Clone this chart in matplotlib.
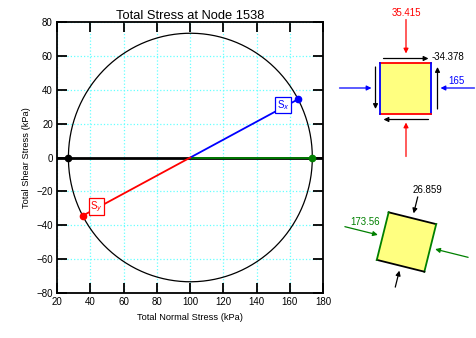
import numpy as np
import matplotlib
matplotlib.use("Agg")
import matplotlib.pyplot as plt
from matplotlib.patches import Polygon

# -------------------------------
# DATA
# -------------------------------
sigma_x = 165.0
sigma_y = 35.415
tau_xy = -34.378
sigma_1 = 173.56
sigma_3 = 26.859

x_ticks = [20, 40, 60, 80, 100, 120, 140, 160, 180]
y_ticks = [-80, -60, -40, -20, 0, 20, 40, 60, 80]

center = (sigma_1 + sigma_3) / 2
radius = (sigma_1 - sigma_3) / 2
theta = 0.5 * np.degrees(np.arctan2(-tau_xy, sigma_x - center))

plt.rcParams['font.family'] = ['Liberation Sans', 'DejaVu Sans']

fig = plt.figure(figsize=(4.77, 3.38), dpi=100)
ax = fig.add_axes([0.1195, 0.133, 0.5577, 0.802])

# -------------------------------
# MOHR CIRCLE
# -------------------------------
t = np.linspace(0, 2 * np.pi, 400)
ax.plot(center + radius * np.cos(t), radius * np.sin(t), color='black', lw=0.9, zorder=3)
ax.axhline(0, color='black', lw=2, zorder=3)
ax.plot([center, sigma_1], [0, 0], color='green', lw=1.3, zorder=4)
ax.plot([center, sigma_x], [0, -tau_xy], color='blue', lw=1.3, zorder=4)
ax.plot([center, sigma_y], [0, tau_xy], color='red', lw=1.3, zorder=4)
ax.plot(sigma_3, 0, 'o', color='black', ms=4.5, zorder=5)
ax.plot(sigma_1, 0, 'o', color='green', ms=4.5, zorder=5)
ax.plot(sigma_x, -tau_xy, 'o', color='blue', ms=4.5, zorder=5)
ax.plot(sigma_y, tau_xy, 'o', color='red', ms=4.5, zorder=5)

# labels on the lines
lx = center + 0.86 * (sigma_x - center)
ax.text(lx, -0.9 * tau_xy, 'S$_x$', color='blue', fontsize=7, ha='center', va='center', zorder=6,
        bbox=dict(boxstyle='square,pad=0.15', fc='white', ec='blue', lw=0.9))
ly = center + 0.87 * (sigma_y - center)
ax.text(ly, 0.84 * tau_xy, 'S$_y$', color='red', fontsize=7, ha='center', va='center', zorder=6,
        bbox=dict(boxstyle='square,pad=0.15', fc='white', ec='red', lw=0.9))

ax.set_xlim(20, 180)
ax.set_ylim(-80, 80)
ax.set_xticks(x_ticks)
ax.set_yticks(y_ticks)
ax.tick_params(direction='in', length=7, width=1.3, top=True, right=True, labelsize=7, pad=3)
ax.grid(True, color='#66ffff', linestyle=':', lw=0.9)
for s in ax.spines.values():
    s.set_linewidth(1.3)
ax.set_title("Total Stress at Node 1538", fontsize=9.3, pad=2)
ax.set_xlabel("Total Normal Stress (kPa)", fontsize=6.7)
ax.set_ylabel("Total Shear Stress (kPa)", fontsize=6.7)

# -------------------------------
# STRESS ELEMENTS (pixel layout)
# -------------------------------
ov = fig.add_axes([0, 0, 1, 1])
ov.set_xlim(0, 477)
ov.set_ylim(338, 0)
ov.axis('off')
ov.patch.set_alpha(0)

fill = '#ffff80'


def arrow(p0, p1, color):
    ov.annotate('', xy=p1, xytext=p0,
                arrowprops=dict(arrowstyle='-|>', color=color, lw=0.9,
                                mutation_scale=7, shrinkA=0, shrinkB=0))


def element(cx, cy, half, ang, c_tb, c_lr):
    a = np.radians(ang)
    rot = np.array([[np.cos(a), -np.sin(a)], [np.sin(a), np.cos(a)]])
    pts = np.array([[-half, -half], [half, -half], [half, half], [-half, half]]) @ rot.T
    pts = pts + [cx, cy]
    ov.add_patch(Polygon(pts, closed=True, fc=fill, ec='none'))
    for i, c in zip(range(4), [c_tb, c_lr, c_tb, c_lr]):
        p, q = pts[i], pts[(i + 1) % 4]
        ov.plot([p[0], q[0]], [p[1], q[1]], color=c, lw=1.3)
    return rot


# top element: x / y stresses
cx, cy, h = 406, 88, 25.5
element(cx, cy, h, 0, 'red', 'blue')
gap, ln = 9, 34
arrow((cx, cy - h - gap - ln), (cx, cy - h - gap), 'red')
arrow((cx, cy + h + gap + ln), (cx, cy + h + gap), 'red')
arrow((cx - h - gap - ln + 2, cy), (cx - h - gap, cy), 'blue')
arrow((cx + h + gap + ln, cy), (cx + h + gap, cy), 'blue')
ov.text(cx, cy - h - gap - ln - 2, '%g' % sigma_y, color='red', fontsize=7, ha='center', va='bottom')
ov.text(cx + h + 17, cy - 7, '%g' % sigma_x, color='blue', fontsize=7, ha='left', va='center')

# shear arrows
s_off, s_half = 4, 22.5
arrow((cx - s_half, cy - h - s_off), (cx + s_half, cy - h - s_off), 'black')
arrow((cx + s_half, cy + h + s_off + 2), (cx - s_half, cy + h + s_off + 2), 'black')
arrow((cx + h + 6, cy + 21), (cx + h + 6, cy - 21), 'black')
arrow((cx - h - 5, cy - 21), (cx - h - 5, cy + 21), 'black')
ov.text(cx + s_half + 3, cy - h - s_off - 1, '%g' % tau_xy, color='black', fontsize=7, ha='left', va='center')

# bottom element: principal stresses
bx, by, bh = 406.5, 242, 24.5
rot = element(bx, by, bh, theta, 'black', 'green')
g2 = 5
for n, ln2, col in [((0, -1), 17, 'black'), ((0, 1), 17, 'black'), ((-1, 0), 34, 'green'), ((1, 0), 34, 'green')]:
    d = rot @ np.array(n, dtype=float)
    tip = np.array([bx, by]) + d * (bh + g2)
    start = tip + d * ln2
    arrow(tuple(start), tuple(tip), col)
ov.text(427, 190, '%g' % sigma_3, color='black', fontsize=7, ha='center', va='center')
ov.text(365, 222, '%g' % sigma_1, color='green', fontsize=7, ha='center', va='center')

fig.savefig("out.png", dpi=100)
